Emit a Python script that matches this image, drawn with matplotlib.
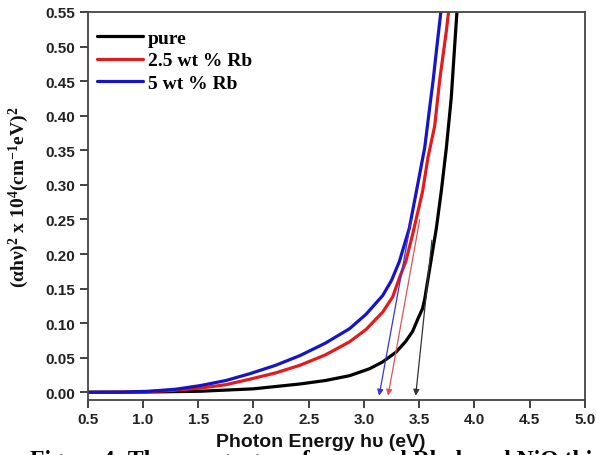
import matplotlib
matplotlib.use("Agg")
import matplotlib.pyplot as plt
from matplotlib.font_manager import FontProperties

# Photon energy (eV) and (alpha*h*nu)^2 for each film
energy_pure = [0.5, 1.0, 1.52, 2.0, 2.42, 2.65, 2.87, 3.05, 3.17, 3.29, 3.38, 3.44, 3.49, 3.53,
               3.55, 3.595, 3.655, 3.70, 3.746, 3.79, 3.83, 3.85]
alpha_pure = [0.0, 0.0003, 0.0015, 0.005, 0.012, 0.017, 0.024, 0.034, 0.044, 0.058, 0.074, 0.088,
              0.107, 0.121, 0.135, 0.179, 0.237, 0.291, 0.354, 0.426, 0.523, 0.57]

energy_rb25 = [0.5, 0.8, 1.0, 1.25, 1.52, 1.75, 1.97, 2.2, 2.42, 2.65, 2.87, 3.02, 3.17, 3.26,
               3.32, 3.38, 3.44, 3.53, 3.58, 3.64, 3.685, 3.746, 3.78]
alpha_rb25 = [0.0, 0.0002, 0.0008, 0.0025, 0.006, 0.011, 0.019, 0.028, 0.039, 0.054, 0.073, 0.091,
              0.116, 0.138, 0.165, 0.19, 0.228, 0.29, 0.34, 0.385, 0.451, 0.523, 0.57]

energy_rb5 = [0.5, 0.8, 1.06, 1.3, 1.52, 1.75, 1.97, 2.2, 2.42, 2.65, 2.87, 3.02, 3.17, 3.25,
              3.32, 3.41, 3.475, 3.55, 3.595, 3.626, 3.66, 3.71]
alpha_rb5 = [0.0, 0.0002, 0.0015, 0.0045, 0.0097, 0.017, 0.027, 0.039, 0.053, 0.071, 0.092, 0.113,
             0.140, 0.162, 0.189, 0.237, 0.291, 0.354, 0.412, 0.451, 0.50, 0.57]

labels = ["pure", "2.5 wt % Rb", "5 wt % Rb"]
colors = ["#000000", "#e41a1c", "#1515c8"]
arrow_colors = ["#333333", "#e85050", "#3535e0"]

# Band-gap extrapolation: tangent start point and intercept on the energy axis
tangent_start_e = [3.615, 3.505, 3.429]
tangent_start_a = [0.22, 0.25, 0.25]
band_gap = [3.468, 3.218, 3.137]

x_ticks = [0.5, 1.0, 1.5, 2.0, 2.5, 3.0, 3.5, 4.0, 4.5, 5.0]
y_ticks = [0.00, 0.05, 0.10, 0.15, 0.20, 0.25, 0.30, 0.35, 0.40, 0.45, 0.50, 0.55]

plt.rcParams["mathtext.fontset"] = "custom"
plt.rcParams["mathtext.rm"] = "Liberation Serif:bold"
plt.rcParams["mathtext.it"] = "Liberation Serif:bold"
plt.rcParams["mathtext.bf"] = "Liberation Serif:bold"

fig = plt.figure(figsize=(5.96, 4.56), dpi=100)
ax = fig.add_axes([0.1471, 0.1213, 0.8344, 0.8502])

series = [(energy_pure, alpha_pure), (energy_rb25, alpha_rb25), (energy_rb5, alpha_rb5)]
for (e, a), lab, c in zip(series, labels, colors):
    ax.plot(e, a, color=c, lw=2.3, label=lab, solid_joinstyle="round", solid_capstyle="round")

for xs, ys, xg, c in zip(tangent_start_e, tangent_start_a, band_gap, arrow_colors):
    ax.annotate("", xy=(xg, -0.005), xytext=(xs, ys),
                arrowprops=dict(arrowstyle="-|>", color=c, lw=0.9,
                                mutation_scale=9, shrinkA=0, shrinkB=0))

ax.set_xlim(0.5, 5.0)
ax.set_ylim(-0.0107, 0.55)
ax.set_xticks(x_ticks)
ax.set_yticks(y_ticks)
ax.set_xticklabels([f"{v:.1f}" for v in x_ticks])
ax.set_yticklabels([f"{v:.2f}" for v in y_ticks])

tick_font = FontProperties(family="Liberation Sans", weight="bold", size=11)
for lbl in ax.get_xticklabels() + ax.get_yticklabels():
    lbl.set_fontproperties(tick_font)
    lbl.set_color("#222222")

ax.tick_params(direction="out", length=6, width=1.3, color="#333333", pad=3)
for sp in ax.spines.values():
    sp.set_color("#444444")
    sp.set_linewidth(1.3)

ax.set_xlabel("Photon Energy hυ (eV)", family="Liberation Sans", weight="bold",
              size=14, color="#111111", labelpad=1)
ax.xaxis.set_label_coords(0.469, -0.085)

ax.set_ylabel(r"(αhν)$^2$ x 10$^4$(cm$^{-1}$eV)$^2$", family="Liberation Serif",
              weight="bold", size=14, color="#111111")
ax.yaxis.set_label_coords(-0.114, 0.525)

leg = ax.legend(loc="upper left", bbox_to_anchor=(0.0187, 0.955), frameon=False,
                borderpad=0, borderaxespad=0, handlelength=2.37, handletextpad=0.26,
                labelspacing=0.24,
                prop=dict(family="Liberation Serif", weight="bold", size=14))

fig.text(0.05, -0.021, "Figure 4: The energy gap of pure and Rb doped NiO thin films",
         family="Liberation Serif", weight="bold", size=17, va="baseline", ha="left")

fig.savefig("out.png", dpi=100)
